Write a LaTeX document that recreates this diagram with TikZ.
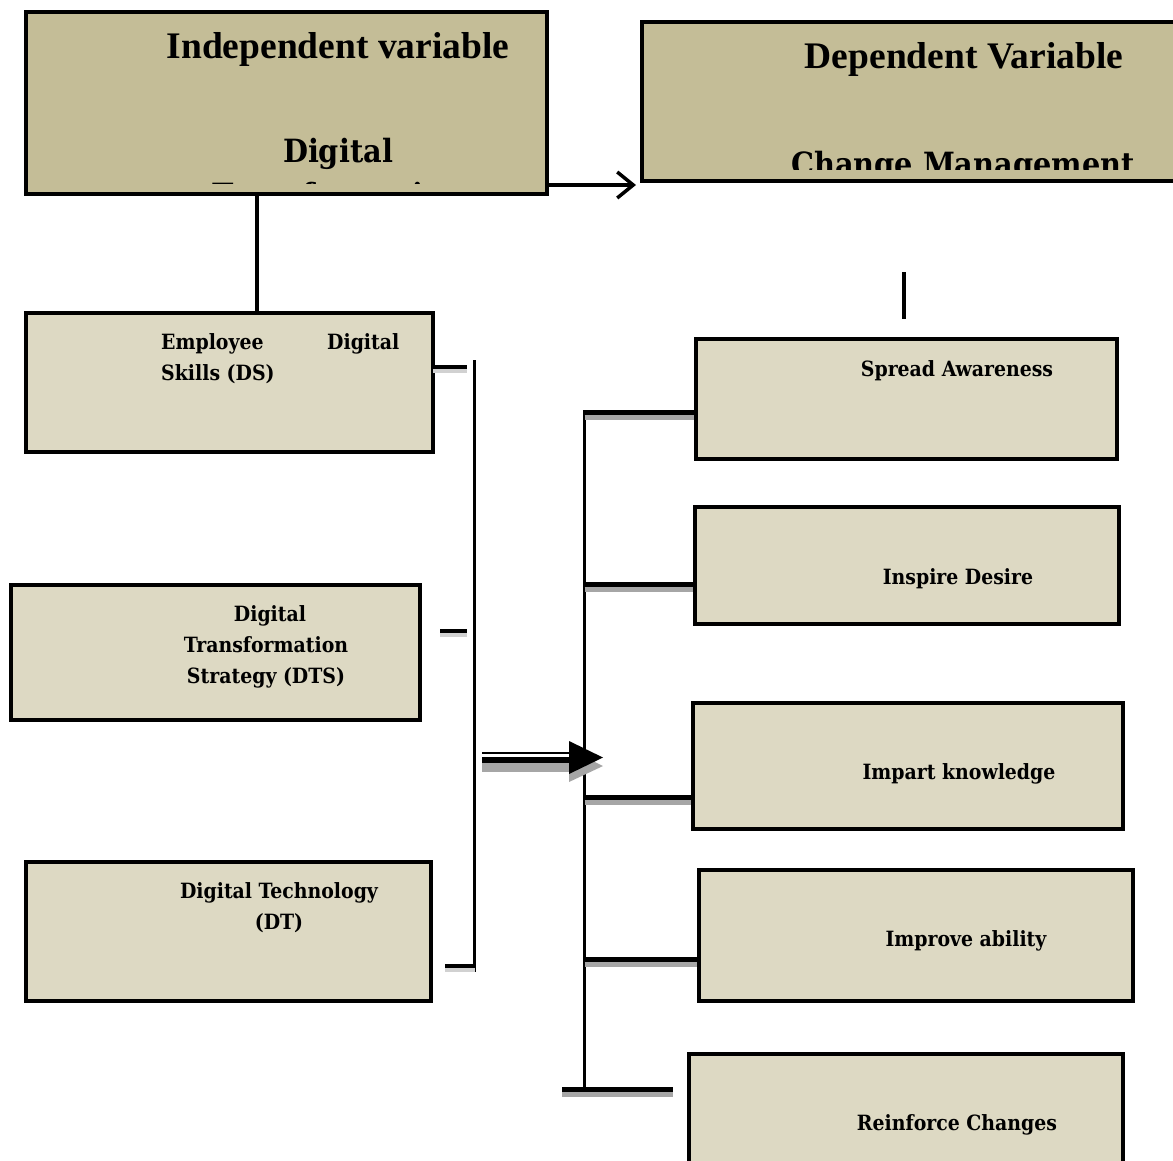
\documentclass[tikz,border=0pt]{standalone}
\usepackage{fontspec}
\setmainfont{Liberation Serif}
\newfontfamily\slab{DejaVu Serif Condensed}
\usetikzlibrary{arrows.meta}
\definecolor{dk}{HTML}{C4BD97}
\definecolor{lt}{HTML}{DDD9C3}
\definecolor{shd}{HTML}{A6A6A6}
\begin{document}
\begin{tikzpicture}[x=1pt,y=-1pt,
  bigbox/.style={draw=black,line width=3.5pt,fill=dk,anchor=north west,inner sep=0pt},
  smallbox/.style={draw=black,line width=3.5pt,fill=lt,anchor=north west,inner sep=0pt},
  title/.style={font=\fontsize{37.5}{40}\selectfont\bfseries,anchor=base,inner sep=0pt},
  slabbig/.style={font=\slab\fontsize{32}{36}\selectfont\bfseries,anchor=base,inner sep=0pt},
  lab/.style={font=\slab\fontsize{21}{24}\selectfont\bfseries,anchor=base,inner sep=0pt},
  conn/.style={line width=3.5pt},
  branch/.style={line width=5pt},
  shadow/.style={line width=5pt,draw=shd}]
\useasboundingbox (0,0) rectangle (1173,1160);
% top boxes
\node[bigbox,minimum width=521pt,minimum height=182pt] (iv) at (24,10) {};
\node[bigbox,minimum width=540pt,minimum height=159pt] (dv) at (640,20) {};
\node[title] (ivt) at (338,58) {Independent variable};
\node[slabbig] (ivd) at (338,162) {Digital};
\begin{scope}
  \clip (26,12) rectangle (543,183);
  \node[slabbig] (ivtr) at (338,206) {Transformation};
\end{scope}
\node[title] (dvt) at (964,68) {Dependent Variable};
\begin{scope}
  \clip (642,22) rectangle (1173,169);
  \node[slabbig] (dvc) at (963,175) {Change Management};
\end{scope}
% arrow IV -> DV
\coordinate (a1) at (545,185);
\coordinate (a2) at (636,185);
\draw[conn,-{Straight Barb[length=16pt,width=26pt,line width=3.5pt]}] (a1) -- (a2);
% left boxes
\node[smallbox,minimum width=407pt,minimum height=139pt] (ds) at (24,311) {};
\node[smallbox,minimum width=409pt,minimum height=135pt] (dts) at (9,583) {};
\node[smallbox,minimum width=405pt,minimum height=139pt] (dt) at (24,860) {};
\node[lab,anchor=base west] (ds1) at (161,349) {Employee};
\node[lab,anchor=base west] (ds2) at (327,349) {Digital};
\node[lab,anchor=base west] (ds3) at (161,380) {Skills (DS)};
\node[lab] (dts1) at (270,621) {Digital};
\node[lab] (dts2) at (266,652) {Transformation};
\node[lab] (dts3) at (266,683) {Strategy (DTS)};
\node[lab] (dt1) at (279,898) {Digital Technology};
\node[lab] (dt2) at (279,929) {(DT)};
% IV to DS
\coordinate (v1) at (257,192);
\coordinate (v2) at (257,311);
\draw[conn] (v1) -- (v2);
% right boxes
\node[smallbox,minimum width=421pt,minimum height=120pt] (sa) at (694,337) {};
\node[smallbox,minimum width=424pt,minimum height=117pt] (id) at (693,505) {};
\node[smallbox,minimum width=430pt,minimum height=126pt] (ik) at (691,701) {};
\node[smallbox,minimum width=434pt,minimum height=131pt] (ia) at (697,868) {};
\node[smallbox,minimum width=434pt,minimum height=120pt] (rc) at (687,1052) {};
\node[lab] (sat) at (957,376) {Spread Awareness};
\node[lab] (idt) at (958,584) {Inspire Desire};
\node[lab] (ikt) at (959,779) {Impart knowledge};
\node[lab] (iat) at (966,946) {Improve ability};
\node[lab] (rct) at (957,1130) {Reinforce Changes};
% short line under DV
\coordinate (s1) at (904,272);
\coordinate (s2) at (904,319);
\draw[conn] (s1) -- (s2);
% left bracket
\coordinate (b1) at (474.5,360);
\coordinate (b2) at (474.5,972);
\draw[line width=3pt] (b1) -- (b2);
\coordinate (st1a) at (433,367); \coordinate (st1b) at (467,367);
\coordinate (st2a) at (440,631); \coordinate (st2b) at (467,631);
\coordinate (st3a) at (445,966); \coordinate (st3b) at (475,966);
\foreach \a/\b in {st1a/st1b,st2a/st2b,st3a/st3b}{
  \draw[line width=4pt,draw=black!18] ([yshift=-4pt]\a) -- ([yshift=-4pt]\b);
  \draw[line width=4.5pt] (\a) -- (\b);
}
% right trunk
\coordinate (r0) at (584.5,410);
\coordinate (r1) at (584.5,1092);
\draw[line width=3pt] (r0) -- (r1);
\coordinate (h1) at (584.5,412.5);
\coordinate (h2) at (584.5,584);
\coordinate (h3) at (584.5,797);
\coordinate (h4) at (584.5,959);
\foreach \h/\bx in {h1/sa,h2/id,h3/ik,h4/ia}{
  \draw[shadow] ([yshift=-5pt]\h) -- ([yshift=-5pt]\h -| \bx.west);
  \draw[branch] (\h) -- (\h -| \bx.west);
}
\coordinate (bb1) at (562,1089.5);
\coordinate (bb2) at (673,1089.5);
\draw[shadow] ([yshift=-5pt]bb1) -- ([yshift=-5pt]bb2);
\draw[branch] (bb1) -- (bb2);
% big arrow
\coordinate (ba1) at (482,753);
\coordinate (ba2) at (570,753);
\coordinate (bc1) at (482,760);
\coordinate (bc2) at (570,760);
\fill[shd] (482,763) rectangle (570,772);
\fill[shd] (569,749) -- (603,766) -- (569,782) -- cycle;
\draw[line width=1.8pt] (ba1) -- (ba2);
\draw[line width=6pt] (bc1) -- (bc2);
\fill[black] (569,741) -- (603,757.5) -- (569,774) -- cycle;
\end{tikzpicture}
\end{document}
